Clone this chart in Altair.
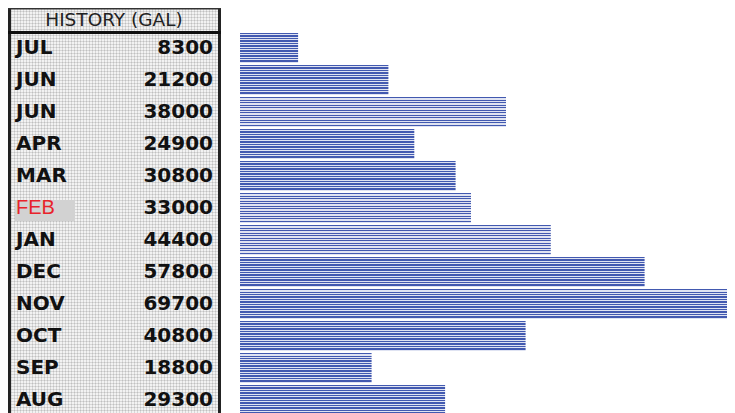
import altair as alt
import pandas as pd

months = ["JUL", "JUN", "JUN", "APR", "MAR", "FEB", "JAN", "DEC", "NOV", "OCT", "SEP", "AUG"]
values = [8300, 21200, 38000, 24900, 30800, 33000, 44400, 57800, 69700, 40800, 18800, 29300]
highlight = [False, False, False, False, False, True, False, False, False, False, False, False]
header = "HISTORY (GAL)"

df = pd.DataFrame({
    "row": list(range(len(months))),
    "month": months,
    "value": values,
    "hl": highlight,
    "label": [str(v) for v in values],
})

ROWH = 32
NROWS = len(months)
yscale = alt.Scale(domain=[0, NROWS], range=[0, NROWS * ROWH], nice=False, zero=False)
xscale = alt.Scale(domain=[0, 70000], range=[232, 722], nice=False)


def stripe_gradient(n, c1, c2, frac, vertical):
    stops = []
    for i in range(n):
        a = i / n
        b = (i + frac) / n
        c = (i + 1) / n
        stops += [
            alt.GradientStop(offset=a, color=c1),
            alt.GradientStop(offset=b, color=c1),
            alt.GradientStop(offset=b, color=c2),
            alt.GradientStop(offset=c, color=c2),
        ]
    if vertical:
        return alt.LinearGradient(gradient="linear", stops=stops, x1=0, y1=0, x2=0, y2=1)
    return alt.LinearGradient(gradient="linear", stops=stops, x1=0, y1=0, x2=1, y2=0)


stripes = stripe_gradient(12, "#4259b0", "#dfe3f2", 0.5, True)
dots_h = stripe_gradient(141, "rgba(0,0,0,0.11)", "rgba(0,0,0,0)", 1 / 3, True)
dots_v = stripe_gradient(71, "rgba(0,0,0,0.11)", "rgba(0,0,0,0)", 1 / 3, False)

one = alt.Data(values=[{"a": 1}])
base = alt.Chart(df)

bg = alt.Chart(one).mark_rect(color="#f2f2f2").encode(
    x=alt.value(0), x2=alt.value(213), y=alt.value(-24), y2=alt.value(399)
)
bgh = alt.Chart(one).mark_rect(color=dots_h).encode(
    x=alt.value(0), x2=alt.value(213), y=alt.value(-24), y2=alt.value(399)
)
bgv = alt.Chart(one).mark_rect(color=dots_v).encode(
    x=alt.value(0), x2=alt.value(213), y=alt.value(-24), y2=alt.value(399)
)
left = alt.Chart(one).mark_rule(color="#222222", strokeWidth=3).encode(
    x=alt.value(1.5), y=alt.value(-24), y2=alt.value(400)
)
right = alt.Chart(one).mark_rule(color="#222222", strokeWidth=3).encode(
    x=alt.value(211.5), y=alt.value(-24), y2=alt.value(400)
)
top = alt.Chart(one).mark_rule(color="#333333", strokeWidth=1.5).encode(
    x=alt.value(0), x2=alt.value(213), y=alt.value(-23.2)
)
hline = alt.Chart(one).mark_rule(color="#111111", strokeWidth=3).encode(
    x=alt.value(0), x2=alt.value(213), y=alt.value(0.5)
)
head = alt.Chart(one).mark_text(
    text=header, font="DejaVu Sans", fontSize=18.5, color="#222222", align="center", baseline="middle"
).encode(x=alt.value(106), y=alt.value(-12))

bars = base.transform_calculate(
    zero="0", y0="datum.row + 1/32", y1="datum.row + 31/32"
).mark_rect(color=stripes).encode(
    x=alt.X("zero:Q", scale=xscale, axis=None),
    x2="value:Q",
    y=alt.Y("y0:Q", scale=yscale, axis=None),
    y2="y1:Q",
)

hlrect = base.transform_filter("datum.hl").transform_calculate(
    ya="datum.row + 0.25", yb="datum.row + 0.906"
).mark_rect(color="#d2d2d2").encode(
    x=alt.value(7), x2=alt.value(67), y=alt.Y("ya:Q", scale=yscale, axis=None), y2="yb:Q"
)

mon = base.transform_filter("!datum.hl").transform_calculate(
    yc="datum.row + 0.5"
).mark_text(
    font="DejaVu Sans", fontWeight="bold", fontSize=20, color="#111111", align="left", baseline="middle", dy=0
).encode(x=alt.value(8), y=alt.Y("yc:Q", scale=yscale, axis=None), text="month:N")

monhl = base.transform_filter("datum.hl").transform_calculate(
    yc="datum.row + 0.5"
).mark_text(
    font="Liberation Sans", fontSize=20, color="#e8232b", align="left", baseline="middle", dy=0
).encode(x=alt.value(8), y=alt.Y("yc:Q", scale=yscale, axis=None), text="month:N")

vals = base.transform_calculate(
    yc="datum.row + 0.5"
).mark_text(
    font="DejaVu Sans", fontWeight="bold", fontSize=20, color="#111111", align="right", baseline="middle", dy=0
).encode(x=alt.value(205), y=alt.Y("yc:Q", scale=yscale, axis=None), text="label:N")

chart = alt.layer(
    bg, bgh, bgv, hlrect, left, right, top, hline, head, mon, monhl, vals, bars
).properties(
    width=719,
    height=381,
    autosize=alt.AutoSizeParams(type="none"),
    padding={"left": 0, "top": 24, "right": 0, "bottom": 0},
    background="white",
).configure_view(stroke=None)

chart.save("out.html", embed_options={"renderer": "svg", "actions": False})
